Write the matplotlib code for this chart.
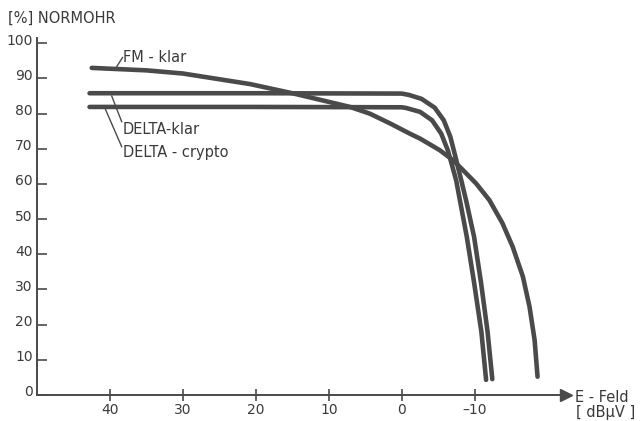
import matplotlib
matplotlib.use("Agg")
import matplotlib.pyplot as plt
from matplotlib.transforms import ScaledTranslation

# ---- data ----
fm_x = [42.5, 35.0, 30.0, 20.8, 14.8, 7.1, 4.4, 1.6, -1.1, -2.5, -5.2, -7.0, -8.4,
        -10.2, -12.0, -13.8, -15.2, -16.6, -17.5, -18.2, -18.6]
fm_y = [93.0, 92.3, 91.4, 88.4, 85.7, 81.9, 80.0, 77.2, 74.3, 72.9, 69.6, 66.8, 63.9,
        60.1, 55.4, 48.8, 42.1, 33.6, 25.1, 15.6, 5.2]

dk_x = [42.8, 20.0, 0.0, -1.0, -2.7, -4.5, -5.75, -6.65, -7.35, -7.8, -8.15, -8.8,
        -9.9, -10.85, -11.75, -12.4]
dk_y = [85.8, 85.8, 85.7, 85.3, 84.2, 81.7, 78.1, 73.4, 67.7, 63.9, 61.0, 55.4,
        45.0, 32.0, 18.0, 4.5]

dc_x = [42.8, 20.0, 0.0, -0.6, -2.5, -4.15, -5.4, -6.3, -6.95, -7.45, -8.9, -9.9,
        -10.9, -11.55]
dc_y = [81.9, 81.9, 81.8, 81.6, 80.5, 78.1, 74.3, 69.6, 64.8, 61.0, 45.0, 32.0,
        18.0, 4.3]

x_ticks = [40, 30, 20, 10, 0, -10]
x_tick_labels = ["40", "30", "20", "10", "0", "\u201310"]
y_ticks = [0, 10, 20, 30, 40, 50, 60, 70, 80, 90, 100]
y_tick_labels = ["0", "10", "20", "30", "40", "50", "60", "70", "80", "90", "100"]

series_labels = ["FM - klar", "DELTA-klar", "DELTA - crypto"]

# ---- figure ----
ink = "#4a4a4a"
txt = "#3a3a3a"
plt.rcParams['font.family'] = ['DejaVu Sans']

fig = plt.figure(figsize=(6.43, 4.21), dpi=100)
ax = fig.add_axes([37 / 643, 26 / 421, 529 / 643, 357 / 421])

for xs, ys in [(fm_x, fm_y), (dk_x, dk_y), (dc_x, dc_y)]:
    ax.plot(xs, ys, color=ink, lw=3.3, solid_capstyle="round",
            solid_joinstyle="round", clip_on=False)

ax.set_xlim(50, -22.5)
ax.set_ylim(0, 101.5)

for s in ["top", "right"]:
    ax.spines[s].set_visible(False)
for s in ["left", "bottom"]:
    ax.spines[s].set_color(ink)
    ax.spines[s].set_linewidth(1.4)

# arrow at the end of x axis
ax.plot(1.0, 0, marker=">", color=ink, markersize=8, transform=ax.transAxes,
        clip_on=False)

ax.set_xticks(x_ticks)
ax.set_xticklabels(x_tick_labels)
ax.set_yticks(y_ticks)
ax.set_yticklabels(y_tick_labels)
ax.tick_params(axis="both", width=1.2, color=ink, labelcolor=txt, labelsize=10)
ax.tick_params(axis="x", direction="inout", length=8, pad=2)
ax.tick_params(axis="y", direction="in", length=7, pad=3)
offset = ScaledTranslation(0, 4 / 100, fig.dpi_scale_trans)
for lab in ax.get_yticklabels():
    lab.set_transform(lab.get_transform() + offset)

# axis labels
fig.text(8 / 643, 1 - 18 / 421, "[%] NORMOHR", color=txt, fontsize=10.5,
         ha="left", va="center")
fig.text(575 / 643, 1 - 398 / 421, "E - Feld", color=txt, fontsize=10.5,
         ha="left", va="center")
fig.text(576 / 643, 1 - 413 / 421, "[ dB\u00b5V ]", color=txt, fontsize=10.5,
         ha="left", va="center")

# series annotations with leader lines (pixel positions)
W, H = 643, 421
ann = [
    (series_labels[0], (116.7, 66.7), (122.5, 57.5), (123, 58)),
    (series_labels[1], (111.7, 96.0), (121.7, 121.7), (123, 129)),
    (series_labels[2], (105.0, 108.3), (121.7, 146.7), (123, 153)),
]
for label, p0, p1, tp in ann:
    fig.add_artist(plt.Line2D([p0[0] / W, p1[0] / W], [1 - p0[1] / H, 1 - p1[1] / H],
                              color=ink, lw=1.0))
    fig.text(tp[0] / W, 1 - tp[1] / H, label, color=txt, fontsize=10.5,
             ha="left", va="center")

fig.savefig("out.png", dpi=100, facecolor="white")
